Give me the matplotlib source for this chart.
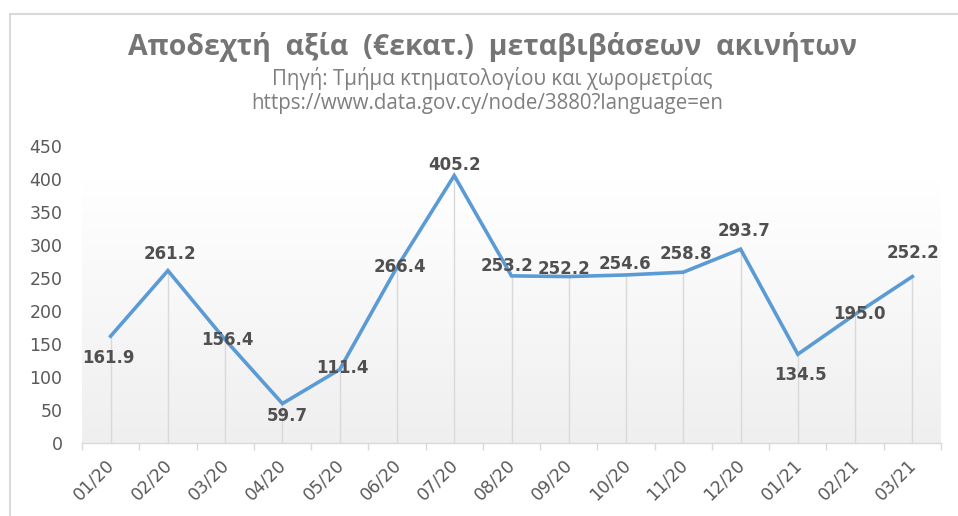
import numpy as np
import matplotlib.pyplot as plt
import matplotlib.transforms as mtransforms
from matplotlib.lines import Line2D
from matplotlib.colors import LinearSegmentedColormap

months = ['01/20', '02/20', '03/20', '04/20', '05/20', '06/20', '07/20', '08/20',
          '09/20', '10/20', '11/20', '12/20', '01/21', '02/21', '03/21']
values = [161.9, 261.2, 156.4, 59.7, 111.4, 266.4, 405.2, 253.2,
          252.2, 254.6, 258.8, 293.7, 134.5, 195.0, 252.2]

# label offsets in pixels (dx, dy), picked by eye
offsets = [(-2, -22), (2, 17), (2, 0), (5, -12), (3, 1), (3, 0), (0, 11), (-4, 10),
           (-5, 8), (-1, 11), (3, 18), (3, 18), (3, -21), (4, 0), (1, 24)]

title = 'Αποδεχτή  αξία  (€εκατ.)  μεταβιβάσεων  ακινήτων'
sub1 = 'Πηγή: Τμήμα κτηματολογίου και χωρομετρίας'
sub2 = 'https://www.data.gov.cy/node/3880?language=en'

fig = plt.figure(figsize=(9.58, 5.16), dpi=100)
ax = fig.add_axes([82 / 958, 1 - 443 / 516, (941 - 82) / 958, (443 - 146) / 516])

n = len(months)
x = np.arange(n)
ax.set_xlim(-0.5, n - 0.5)
ax.set_ylim(0, 450)

# plot area gradient: white at top, light gray at bottom
cm = LinearSegmentedColormap.from_list('g', ['#efefef', '#ffffff'])
grad = np.linspace(1, 0, 256).reshape(-1, 1)
ax.imshow(grad, extent=(-0.5, n - 0.5, 0, 398), aspect='auto', cmap=cm,
          vmin=0, vmax=1, zorder=0, origin='upper')

# drop lines
ax.vlines(x, 0, values, color='#d9d9d9', linewidth=1, zorder=1)

ax.plot(x, values, color='#5b9bd5', linewidth=2.6, zorder=3, solid_joinstyle='miter')

for xi, v, (dx, dy) in zip(x, values, offsets):
    ax.annotate(f'{v:.1f}', (xi, v), xytext=(dx * 0.72, dy * 0.72), textcoords='offset points',
                ha='center', va='center', fontsize=12, fontweight='bold', color='#505050',
                family='DejaVu Sans', zorder=4)

for s in ['top', 'right', 'left']:
    ax.spines[s].set_visible(False)
ax.spines['bottom'].set_color('#d9d9d9')
ax.spines['bottom'].set_linewidth(1)

ax.set_yticks(np.arange(0, 451, 50))
ax.tick_params(axis='y', length=0, pad=14, labelsize=12.5, labelcolor='#595959')
ax.set_xticks(np.arange(-0.5, n, 1))
ax.set_xticklabels([])
ax.tick_params(axis='x', which='major', length=5, color='#d9d9d9', width=1)
ax.set_xticks(x, minor=True)
ax.set_xticklabels(months, minor=True, rotation=45, ha='right', va='top',
                   rotation_mode='anchor', fontsize=12.5, color='#595959')
ax.tick_params(axis='x', which='minor', length=0, pad=9)
shift = mtransforms.ScaledTranslation(-5 / 100, 0, fig.dpi_scale_trans)
for lbl in ax.get_xticklabels(minor=True):
    lbl.set_transform(lbl.get_transform() + shift)

fig.text(492 / 958, 1 - 47 / 516, title, ha='center', va='center', fontsize=20.5,
         fontweight='bold', color='#757575', family=['Open Sans', 'DejaVu Sans'])
fig.text(492 / 958, 1 - 78 / 516, sub1, ha='center', va='center', fontsize=14.8,
         color='#7f7f7f', family=['Open Sans', 'DejaVu Sans'])
fig.text(487 / 958, 1 - 104 / 516, sub2, ha='center', va='center', fontsize=14.8,
         color='#7f7f7f', family=['Open Sans', 'DejaVu Sans'])

# chart frame (top and left edges visible)
fig.add_artist(Line2D([10 / 958, 10 / 958], [0, 1 - 14 / 516], transform=fig.transFigure,
                      color='#d9d9d9', linewidth=1.5))
fig.add_artist(Line2D([10 / 958, 1], [1 - 14 / 516, 1 - 14 / 516], transform=fig.transFigure,
                      color='#d9d9d9', linewidth=1.5))

fig.savefig('out.png', dpi=100)
